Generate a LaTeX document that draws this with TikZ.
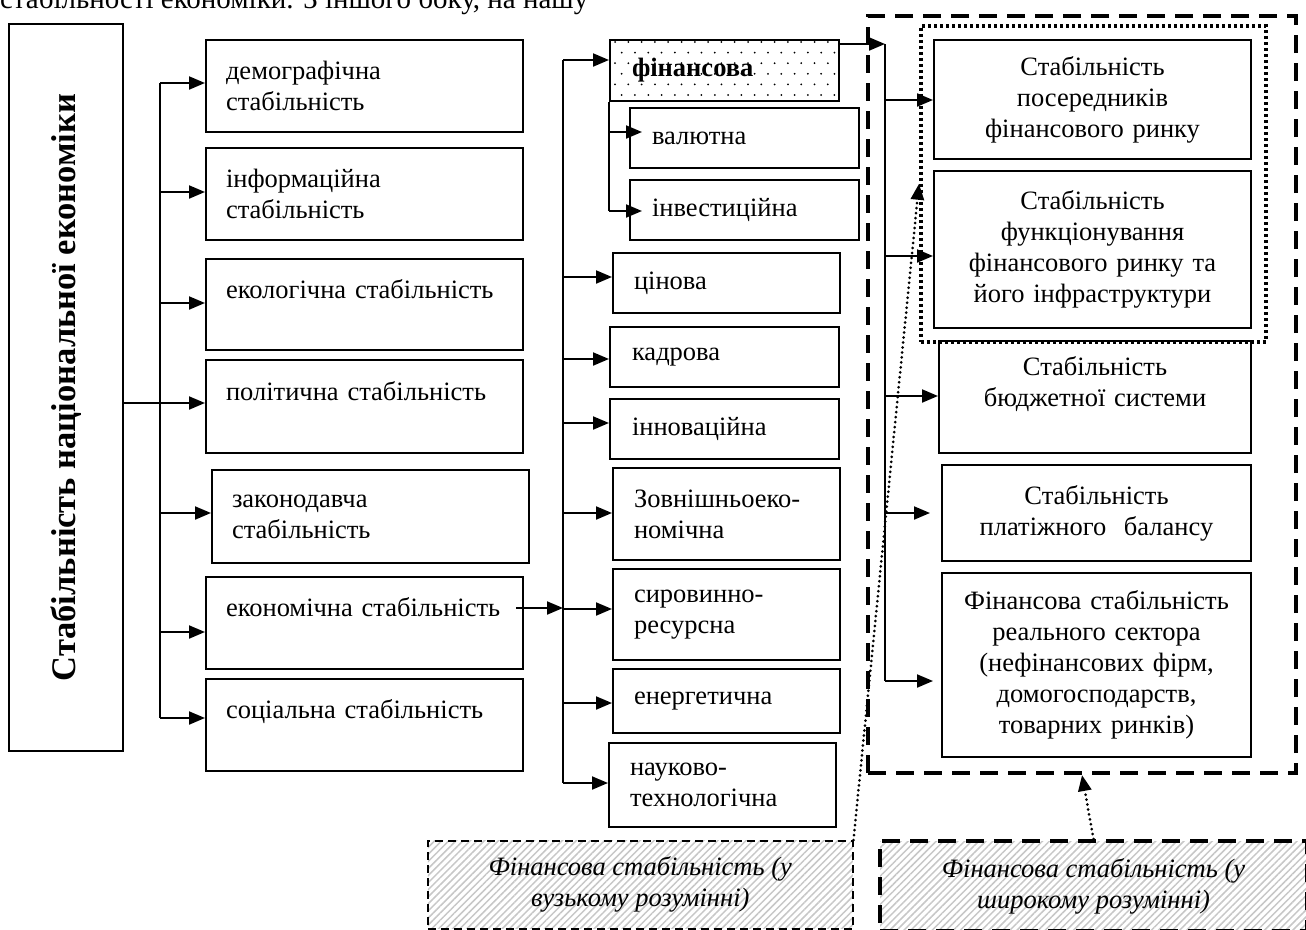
\documentclass[tikz,border=0pt]{standalone}
\usepackage{fontspec}
\setmainfont{Liberation Serif}
\usepackage{graphicx}
\usetikzlibrary{arrows.meta,patterns.meta,calc}
\def\txt{\fontsize{26.5}{31}\selectfont}
\tikzset{
    blk/.style={draw, line width=2pt, anchor=north west, inner ysep=0pt, font=\txt},
    lbox/.style={blk, inner xsep=20pt, text width=277pt, align=left, minimum height=#1},
    mbox/.style 2 args={blk, text width=185pt, align=left, minimum width=#1, minimum height=#2},
    rbox/.style 2 args={blk, text width=290pt, align=center, minimum width=#1, minimum height=#2},
    dotfr/.style={draw, line width=3.5pt, dash pattern=on 3pt off 3pt, anchor=north west},
    dashfr/.style={draw, line width=4pt, dash pattern=on 18pt off 10pt, anchor=north west},
    hatch/.style={pattern={Lines[angle=45,distance=5pt,line width=1.5pt]}, pattern color=black!22,
        anchor=north west, align=center, font=\txt\itshape},
    ptr/.style={->, line width=3pt, line cap=round, dash pattern=on 0pt off 5pt}
}

\begin{document}
\begin{tikzpicture}[x=1pt, y=-1pt, line width=2pt, >={Triangle[length=16pt,width=13pt]}]
    \useasboundingbox (0,0) rectangle (1306,929);
    \node[anchor=base west, inner sep=0pt, font=\fontsize{29}{33}\selectfont] (lead) at (-1,8.5)
        {стабільності економіки. З іншого боку, на нашу};

    \node[blk, minimum width=114pt, minimum height=727pt] (nat) at (8,23)
        {\rotatebox{90}{\fontsize{34.5}{40}\selectfont\bfseries Стабільність національної економіки}};

    \node[lbox=92pt] (dem) at (205,39) {демографічна\\стабільність};
    \node[lbox=92pt] (inf) at (205,147) {інформаційна\\стабільність};
    \node[lbox=91pt] (eco) at (205,258) {екологічна стабільність\\ \mbox{}};
    \node[lbox=93pt] (pol) at (205,359) {політична стабільність\\ \mbox{}};
    \node[lbox=93pt] (zak) at (211,469) {законодавча\\стабільність};
    \node[lbox=92pt] (ekn) at (205,576) {економічна стабільність\\ \mbox{}};
    \node[lbox=92pt] (soc) at (205,678) {соціальна стабільність\\ \mbox{}};

    \draw (nat.east |- 0,403) -- (160,403);
    \draw (160,83) -- (160,718);
    \foreach \n/\y in {dem/83, inf/192, eco/303, pol/403, zak/513, ekn/632, soc/718}
        \draw[->] (160,\y) -- (\n.west |- 0,\y);

    \foreach \r in {0,...,5}
        \foreach \c in {0,...,16}{
            \pgfmathsetmacro\dx{615+13.3*\c+6.65*mod(\r,2)}
            \fill (\dx,42+10.6*\r) circle (1pt);
        }
    \node[mbox={229pt}{61pt}, font=\txt\bfseries] (fin) at (609,39) {фінансова};
    \node[mbox={229pt}{60pt}] (val) at (629,107) {валютна};
    \node[mbox={229pt}{60pt}] (inv) at (629,179) {інвестиційна};
    \node[mbox={227pt}{60pt}] (cin) at (612,252) {цінова};
    \node[mbox={229pt}{60pt}] (kad) at (609,326) {кадрова};
    \node[mbox={229pt}{60pt}] (inn) at (609,398) {інноваційна};
    \node[mbox={227pt}{92pt}] (zov) at (612,467) {Зовнішньоеко-\\номічна};
    \node[mbox={227pt}{91pt}] (syr) at (612,568) {сировинно-\\ресурсна};
    \node[mbox={227pt}{64pt}] (ene) at (612,668) {енергетична};
    \node[mbox={227pt}{84pt}] (nau) at (608,742) {науково-\\технологічна};

    \coordinate (mid) at (563,608);
    \draw[->] ($(ekn.east |- mid)+(-8,0)$) -- (mid);
    \draw (563,60) -- (563,783);
    \foreach \n/\y in {fin/60, cin/277, kad/359, inn/423, zov/513, syr/609, ene/703, nau/783}
        \draw[->] (563,\y) -- (\n.west |- 0,\y);
    \draw (fin.south west) -- (609,211);
    \foreach \n/\y in {val/132, inv/211}
        \draw[->, shorten >=-13pt] (609,\y) -- (\n.west |- 0,\y);

    \node[rbox={317pt}{119pt}] (pos) at (933,39) {Стабільність\\посередників\\фінансового ринку};
    \node[rbox={317pt}{157pt}] (fun) at (933,170) {Стабільність\\функціонування\\фінансового ринку та\\його інфраструктури};
    \node[rbox={312pt}{112pt}] (bud) at (938,340) {Стабільність\\бюджетної системи\\ \mbox{}};
    \node[rbox={309pt}{96pt}] (pla) at (941,464) {Стабільність\\платіжного\ \ балансу};
    \node[rbox={309pt}{184pt}] (rea) at (941,572) {Фінансова стабільність\\реального сектора\\(нефінансових фірм,\\домогосподарств,\\товарних ринків)};

    \coordinate (rtop) at (885,44);
    \draw[->] (fin.east |- rtop) -- (rtop);
    \draw (rtop) -- (885,681);
    \foreach \n/\y/\s in {pos/100/0, fun/256/0, bud/396/0, pla/513/11, rea/681/8}
        \draw[->, shorten >=\s pt] (885,\y) -- (\n.west |- 0,\y);

    \node[dotfr, minimum width=345pt, minimum height=316pt] (narrow) at (919,24) {};
    \node[dashfr, minimum width=428pt, minimum height=757pt] (broad) at (866,14) {};

    \node[hatch, draw, line width=1.5pt, dash pattern=on 8pt off 5pt, minimum width=425pt, minimum height=88pt]
        (vuz) at (427,840) {Фінансова стабільність (у\\вузькому розумінні)};
    \node[hatch, draw, line width=4pt, dash pattern=on 18pt off 10pt, minimum width=427pt, minimum height=90pt]
        (shyr) at (878,839) {Фінансова стабільність (у\\широкому розумінні)};

    \draw[ptr] (vuz.north east) -- (narrow.west);
    \draw[ptr] (shyr.north) -- (broad.south);
\end{tikzpicture}
\end{document}
